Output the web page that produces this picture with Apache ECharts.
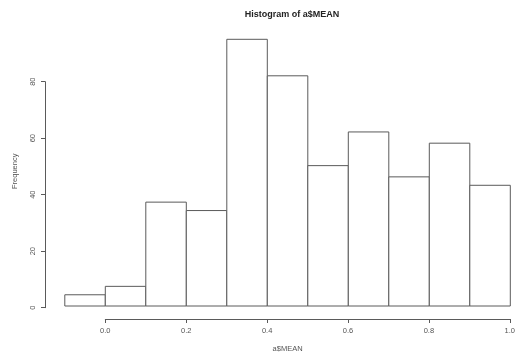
<!DOCTYPE html>
<html>
<head>
<meta charset="utf-8">
<script src="https://cdn.jsdelivr.net/npm/echarts@6/dist/echarts.min.js"></script>
<style>html,body{margin:0;padding:0;background:#fff}#c{width:518px;height:358px}</style>
</head>
<body>
<div id="c"></div>
<script>
var binStarts = [-0.1, 0.0, 0.1, 0.2, 0.3, 0.4, 0.5, 0.6, 0.7, 0.8, 0.9];
var binEnds   = [0.0, 0.1, 0.2, 0.3, 0.4, 0.5, 0.6, 0.7, 0.8, 0.9, 1.0];
var counts    = [4, 7, 37, 34, 95, 82, 50, 62, 46, 58, 43];
var xTicks = [0.0, 0.2, 0.4, 0.6, 0.8, 1.0];
var yTicks = [0, 20, 40, 60, 80];

var data = binStarts.map(function (s, i) { return [s, binEnds[i], counts[i]]; });
var lineColor = '#5a5a5a';
var textColor = '#555';
var font = 'Liberation Sans, Arial, sans-serif';

var chart = echarts.init(document.getElementById('c'));
chart.setOption({
  animation: false,
  backgroundColor: '#fff',
  title: {
    text: 'Histogram of a$MEAN',
    left: 287, top: 5,
    textAlign: 'center',
    textStyle: { fontSize: 9, fontWeight: 'bold', color: '#222', fontFamily: font }
  },
  grid: [
    { left: 64.8, right: 7.7, top: 36.5, bottom: 50.3 },
    { left: 105.3, right: 7.7, top: 300, bottom: 39 },
    { left: 45, width: 10, top: 81.7, bottom: 50.3 }
  ],
  xAxis: [
    { gridIndex: 0, type: 'value', min: -0.1, max: 1.0,
      axisLine: { show: false }, axisTick: { show: false }, axisLabel: { show: false }, splitLine: { show: false },
      name: 'a$MEAN', nameLocation: 'middle', nameGap: 39,
      nameTextStyle: { fontSize: 7.5, color: textColor, fontFamily: font } },
    { gridIndex: 1, type: 'value', min: 0, max: 1.0, interval: 0.2,
      axisLine: { show: true, lineStyle: { color: lineColor, width: 1 } },
      axisTick: { show: true, length: 4, lineStyle: { color: lineColor } },
      axisLabel: { show: true, fontSize: 7.5, color: textColor, fontFamily: font, margin: 8,
        formatter: function (v) { return v.toFixed(1); } },
      splitLine: { show: false } },
    { gridIndex: 2, type: 'value', show: false, min: 0, max: 1 }
  ],
  yAxis: [
    { gridIndex: 0, type: 'value', min: 0, max: 96,
      axisLine: { show: false }, axisTick: { show: false }, axisLabel: { show: false }, splitLine: { show: false },
      name: 'Frequency', nameLocation: 'middle', nameGap: 46, nameRotate: 90,
      nameTextStyle: { fontSize: 7.5, color: textColor, fontFamily: font } },
    { gridIndex: 1, type: 'value', show: false },
    { gridIndex: 2, type: 'value', min: 0, max: 80, interval: 20, position: 'left',
      axisLine: { show: true, lineStyle: { color: lineColor, width: 1 } },
      axisTick: { show: true, length: 4, lineStyle: { color: lineColor } },
      axisLabel: { show: true, fontSize: 7.5, color: textColor, fontFamily: font, rotate: 90, margin: 8 },
      splitLine: { show: false } }
  ],
  series: [{
    type: 'custom',
    xAxisIndex: 0, yAxisIndex: 0,
    data: data,
    renderItem: function (params, api) {
      var p0 = api.coord([api.value(0), api.value(2)]);
      var p1 = api.coord([api.value(1), 0]);
      return {
        type: 'rect',
        shape: { x: p0[0], y: p0[1], width: p1[0] - p0[0], height: p1[1] - p0[1] },
        style: { fill: '#fff', stroke: lineColor, lineWidth: 1 }
      };
    }
  }]
});
</script>
</body>
</html>
